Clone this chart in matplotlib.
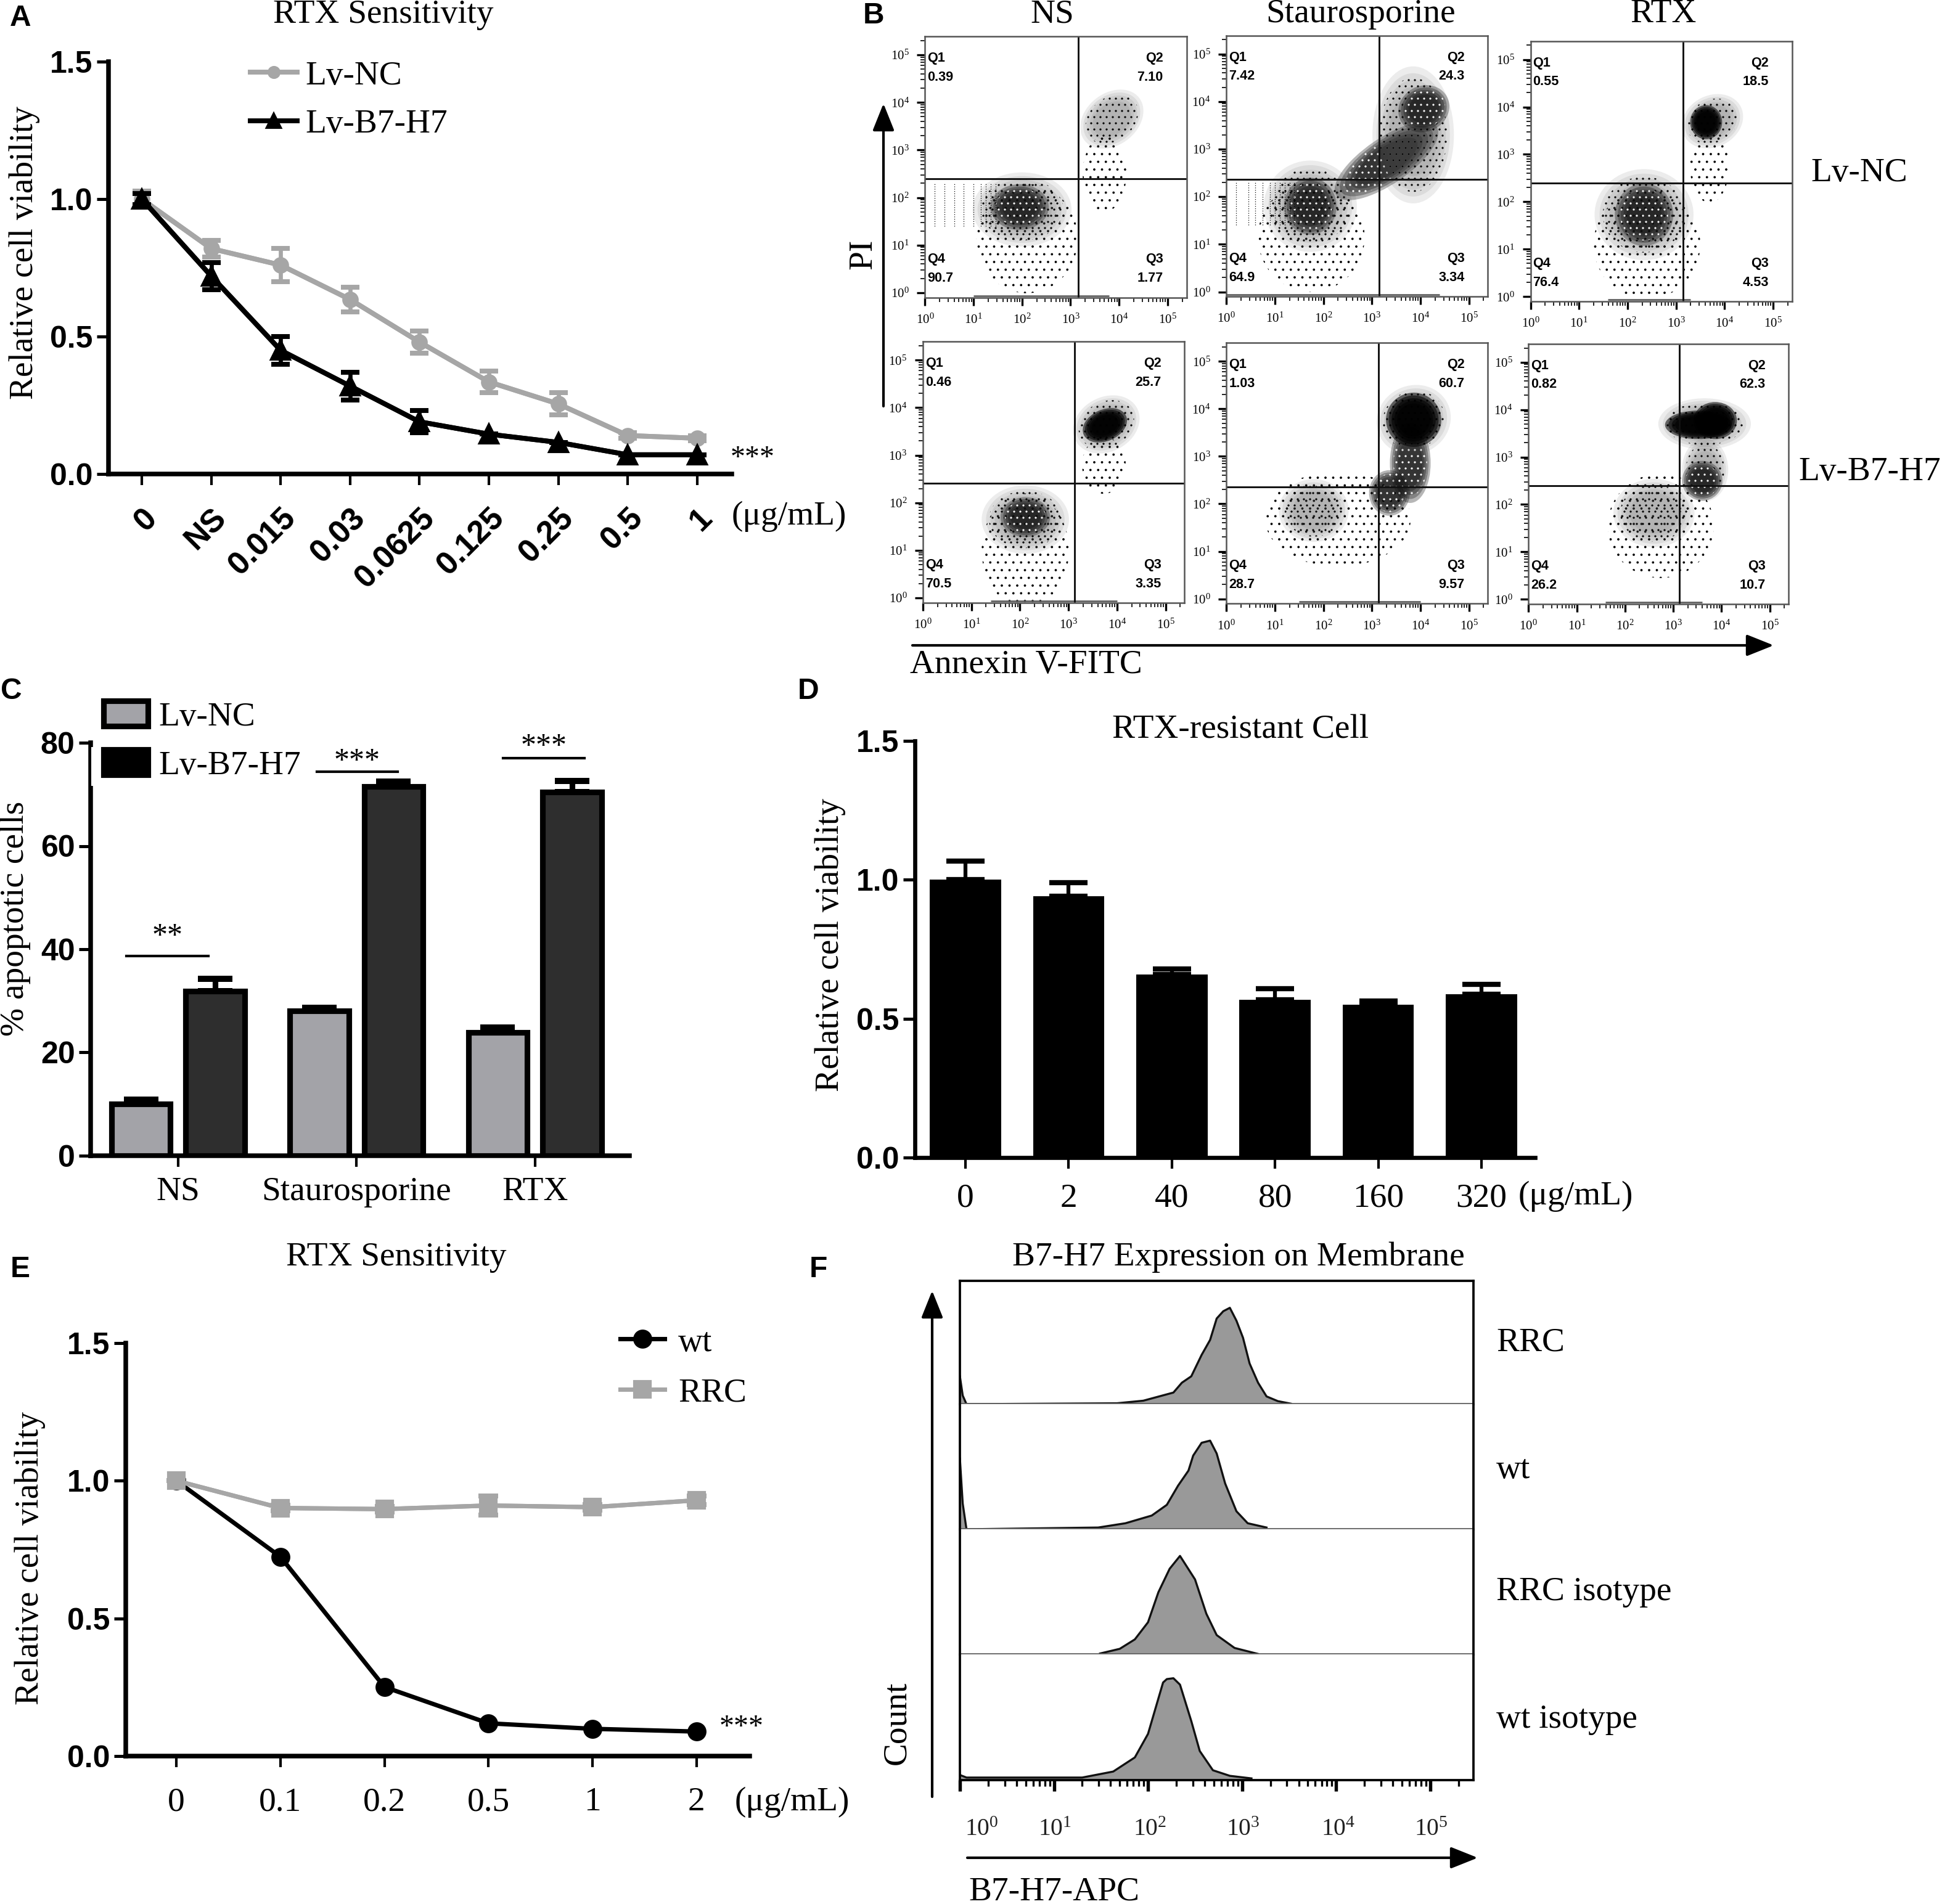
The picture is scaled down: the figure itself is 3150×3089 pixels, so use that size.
import numpy as np
import matplotlib
matplotlib.use("Agg")
import matplotlib.pyplot as plt
from matplotlib.patches import Ellipse, Rectangle, Patch

W, H = 3150, 3089
SERIF = "Liberation Serif"
SANS = "Liberation Sans"
plt.rcParams["font.family"] = [SERIF, "DejaVu Serif"]
plt.rcParams["mathtext.fontset"] = "custom"
plt.rcParams["mathtext.rm"] = SANS
plt.rcParams["hatch.linewidth"] = 0.3

# ---------- Panel A ----------
a_labels = ["0", "NS", "0.015", "0.03", "0.0625", "0.125", "0.25", "0.5", "1"]
a_nc = [1.0, 0.82, 0.76, 0.635, 0.48, 0.335, 0.255, 0.14, 0.13]
a_nc_err = [0.03, 0.03, 0.06, 0.045, 0.04, 0.04, 0.04, 0.01, 0.01]
a_b7 = [1.0, 0.72, 0.45, 0.32, 0.19, 0.145, 0.115, 0.07, 0.07]
a_b7_err = [0.02, 0.05, 0.05, 0.05, 0.04, 0.0, 0.0, 0.0, 0.0]

# ---------- Panel C ----------
c_groups = ["NS", "Staurosporine", "RTX"]
c_nc = [10.0, 28.1, 23.9]
c_nc_err = [0.9, 0.6, 0.9]
c_b7 = [31.9, 71.5, 70.5]
c_b7_err = [2.4, 1.0, 2.1]

# ---------- Panel D ----------
d_labels = ["0", "2", "40", "80", "160", "320"]
d_vals = [1.0, 0.94, 0.66, 0.567, 0.55, 0.587]
d_err = [0.068, 0.05, 0.02, 0.04, 0.013, 0.037]

# ---------- Panel E ----------
e_labels = ["0", "0.1", "0.2", "0.5", "1", "2"]
e_wt = [1.0, 0.724, 0.251, 0.119, 0.099, 0.089]
e_rrc = [1.0, 0.901, 0.897, 0.91, 0.904, 0.929]
e_rrc_err = [0.0, 0.01, 0.01, 0.035, 0.01, 0.015]

# ---------- Panel B: gates and population outlines, log10 units ----------
b_cols = ["NS", "Staurosporine", "RTX"]
b_gates = [[(3.16, 2.40), (3.15, 2.37), (3.15, 2.39)],
           [(3.13, 2.41), (3.13, 2.36), (3.13, 2.39)]]
b_q = [[("0.39", "7.10", "90.7", "1.77"), ("7.42", "24.3", "64.9", "3.34"), ("0.55", "18.5", "76.4", "4.53")],
       [("0.46", "25.7", "70.5", "3.35"), ("1.03", "60.7", "28.7", "9.57"), ("0.82", "62.3", "26.2", "10.7")]]
# centre x, centre y, width, height, angle, density level
b_pops = [
    [[(2.10, 1.14, 2.1, 2.3, 0, 0), (2.00, 1.75, 1.7, 1.3, 0, 1), (1.95, 1.80, 1.0, 0.8, 0, 2),
      (3.85, 3.65, 1.2, 0.9, 40, 1), (3.70, 2.50, 0.9, 1.6, 0, 0)],
     [(1.75, 1.15, 2.2, 2.3, 0, 0), (1.73, 1.80, 1.6, 1.6, 0, 1), (1.73, 1.80, 0.9, 1.0, 0, 2),
      (3.30, 2.75, 2.1, 0.8, 35, 2), (3.85, 3.30, 1.4, 2.4, 0, 1), (4.07, 3.85, 0.9, 0.8, 30, 2)],
     [(2.40, 1.10, 2.2, 2.3, 0, 0), (2.34, 1.73, 1.7, 1.6, 0, 1), (2.34, 1.73, 1.0, 1.1, 0, 2),
      (3.69, 2.73, 0.8, 1.5, 0, 0), (3.75, 3.70, 1.1, 0.9, 30, 1), (3.62, 3.68, 0.55, 0.6, 0, 3)]],
    [[(2.11, 1.00, 1.8, 2.4, 0, 0), (2.11, 1.65, 1.5, 1.2, 0, 1), (2.11, 1.70, 0.85, 0.7, 0, 2),
      (3.73, 2.79, 0.9, 1.2, 0, 0), (3.78, 3.65, 1.2, 0.95, 30, 1), (3.75, 3.63, 0.8, 0.55, 25, 3)],
     [(2.30, 1.68, 3.0, 2.0, 0, 0), (1.80, 1.86, 1.2, 1.1, 0, 1), (3.36, 2.23, 0.7, 0.8, 0, 2),
      (3.79, 2.86, 0.7, 1.4, 0, 2), (3.86, 3.77, 1.3, 1.2, 30, 1), (3.86, 3.77, 0.95, 0.95, 30, 3)],
     [(2.74, 1.55, 2.2, 2.2, 0, 0), (2.60, 1.82, 1.4, 1.2, 0, 1), (3.66, 2.73, 0.8, 1.1, 0, 1),
      (3.60, 2.50, 0.7, 0.7, 0, 2), (3.65, 3.70, 1.6, 0.9, 0, 1), (3.52, 3.68, 1.15, 0.5, 0, 3),
      (3.87, 3.77, 0.75, 0.65, 0, 3)]],
]
b_stripes = {(0, 0): [0.2, 0.4, 0.6, 0.8, 1.0, 1.15, 1.25, 1.35, 1.45],
             (0, 1): [0.2, 0.45, 0.6, 0.75, 0.9, 1.0, 1.1, 1.2, 1.3, 1.4]}
b_floor = {(0, 0): (1.0, 3.8), (0, 1): (0.0, 4.4), (0, 2): (1.6, 3.3),
           (1, 0): (1.4, 4.0), (1, 1): (1.5, 4.0), (1, 2): (1.6, 3.6)}

# ---------- Panel F: histograms, log10 intensity and count ----------
f_names = ["RRC", "wt", "RRC isotype", "wt isotype"]
f_x = [
    [0.0, 0.03, 0.07, 1.67, 1.95, 2.27, 2.36, 2.46, 2.57, 2.66, 2.73, 2.80, 2.87, 2.94, 3.01, 3.08, 3.17, 3.26, 3.38, 3.52],
    [0.0, 0.03, 0.07, 1.47, 1.76, 2.04, 2.20, 2.32, 2.43, 2.48, 2.57, 2.66, 2.73, 2.82, 2.94, 3.06, 3.26],
    [1.49, 1.70, 1.86, 2.0, 2.11, 2.23, 2.34, 2.50, 2.62, 2.73, 2.92, 3.17],
    [0.0, 0.07, 1.30, 1.63, 1.86, 2.0, 2.16, 2.20, 2.27, 2.34, 2.46, 2.55, 2.69, 2.87, 3.10],
]
f_y = [
    [65, 20, 0, 2, 8, 27, 50, 65, 115, 150, 200, 217, 225, 195, 155, 95, 50, 18, 7, 1],
    [165, 60, 0, 4, 14, 32, 57, 102, 137, 172, 202, 207, 177, 107, 42, 14, 4],
    [2, 13, 35, 75, 145, 200, 230, 175, 95, 45, 15, 1],
    [12, 6, 6, 20, 53, 108, 228, 236, 238, 223, 138, 68, 23, 10, 4],
]

fig = plt.figure(figsize=(W / 300, H / 300), dpi=300, facecolor="white")


def box(l, t, r, b):
    return fig.add_axes([l / W, 1 - b / H, (r - l) / W, (b - t) / H])


ov = fig.add_axes([0, 0, 1, 1], zorder=20)
ov.set_xlim(0, W)
ov.set_ylim(H, 0)
ov.axis("off")


def T(x, y, s, size=13.3, ha="center", va="center", **kw):
    kw.setdefault("family", [SERIF])
    ov.text(x, y, s, fontsize=size, ha=ha, va=va, **kw)


def arrow(x0, y0, x1, y1):
    ov.annotate("", xy=(x1, y1), xytext=(x0, y0),
                arrowprops=dict(arrowstyle="-|>,head_length=0.75,head_width=0.3", lw=1.0, color="black",
                                shrinkA=0, shrinkB=0, mutation_scale=12))


def prism(ax, yticks, ylim, xlim, xticks, xlabels, ylab_size=12, xpad=12, lw=1.8):
    ax.set_facecolor("none")
    ax.spines["top"].set_visible(False)
    ax.spines["right"].set_visible(False)
    ax.spines["left"].set_linewidth(lw)
    ax.spines["bottom"].set_linewidth(lw)
    ax.set_xlim(*xlim)
    ax.set_ylim(*ylim)
    ax.set_yticks(yticks)
    ax.set_yticklabels([("%d" % v if float(v).is_integer() and ylim[1] > 10 else "%.1f" % v) for v in yticks],
                       fontfamily=SANS, fontweight="bold", fontsize=ylab_size)
    ax.set_xticks(xticks)
    ax.set_xticklabels(xlabels, fontsize=13.3)
    ax.tick_params(axis="y", length=4.6, width=1.2, pad=1.5)
    ax.tick_params(axis="x", length=4.3, width=1.0, pad=xpad)


# ---- A ----
ax = box(176, 100, 1187, 769)
x = np.arange(len(a_labels))
prism(ax, [0, 0.5, 1.0, 1.5], (0, 1.5), (-0.48, 8.5), x, a_labels)
GREY = "#a6a6a6"
ax.errorbar(x, a_nc, yerr=a_nc_err, color=GREY, lw=1.9, elinewidth=1.6, capsize=3.7, capthick=1.9, clip_on=False, zorder=3)
h1, = ax.plot(x, a_nc, color=GREY, lw=1.9, marker="o", ms=5.4, clip_on=False, zorder=3, label="Lv-NC")
ax.errorbar(x, a_b7, yerr=a_b7_err, color="black", lw=1.9, elinewidth=1.6, capsize=3.7, capthick=1.9, clip_on=False, zorder=4)
h2, = ax.plot(x, a_b7, color="black", lw=1.9, marker="^", ms=7.2, clip_on=False, zorder=4, label="Lv-B7-H7")
ax.set_xticklabels(a_labels, rotation=45, ha="right", va="top", rotation_mode="anchor",
                   fontfamily=SANS, fontweight="bold", fontsize=12.5)
ax.tick_params(axis="x", pad=7)
ax.legend(handles=[h1, h2], loc="upper left", bbox_to_anchor=(406, 98), bbox_transform=ov.transData,
          frameon=False, fontsize=13.3, borderpad=0, borderaxespad=0, handlelength=1.37, handletextpad=0.25,
          labelspacing=0.5, markerscale=0.75)
T(33, 29, "A", 11.5, family=[SANS], fontweight="bold")
T(622, 24, "RTX Sensitivity")
T(40, 410, "Relative cell viability", rotation=90)
T(1187, 838, "(\u03bcg/mL)", ha="left")
T(1221, 744, "***", 11.5)

# ---- B ----
boxes = [[(90, 84, 470, 688), (528, 82, 908, 686), (970, 95, 1350, 697)],
         [(87, 790, 467, 1394), (528, 793, 908, 1396), (967, 795, 1345, 1397)]]
MINOR = [k + np.log10(m) for k in range(6) for m in range(2, 10)]
FILL = {0: (0.6, 0.6, 0.6, 0.0), 1: (0.3, 0.3, 0.3, 0.10), 2: (0.05, 0.05, 0.05, 0.30), 3: (0, 0, 0, 0.55)}
HATCH = {0: ("....", "black"), 1: (".....", "black"), 2: (".....", "white"), 3: (None, "black")}
for r in range(2):
    for c in range(3):
        zl, zt, zr, zb = boxes[r][c]
        ax = box(1400 + zl / 0.896, zt / 1.4255, 1400 + zr / 0.896, zb / 1.4255)
        ax.set_xlim(0, 5.39)
        ax.set_ylim(-0.1, 5.39)
        for s in ax.spines.values():
            s.set_linewidth(0.6)
            s.set_color("#555555")
        ticks = list(range(6))
        labs = [r"$\mathregular{10^{%d}}$" % k for k in ticks]
        ax.set_xticks(ticks)
        ax.set_xticklabels(labs, fontsize=5)
        ax.set_yticks(ticks)
        ax.set_yticklabels(labs, fontsize=5)
        ax.set_xticks([m for m in MINOR if m < 5.39], minor=True)
        ax.set_yticks([m for m in MINOR if m < 5.39], minor=True)
        ax.tick_params(which="major", length=3.2, width=0.8, pad=3)
        ax.tick_params(which="minor", length=1.6, width=0.4)
        for (cx, cy, w, h, ang, lev) in b_pops[r][c]:
            if lev > 0:
                for sc in (1.2, 1.08, 0.96, 0.84, 0.72):
                    ax.add_patch(Ellipse((cx, cy), w * sc, h * sc, angle=ang, facecolor=FILL[lev], edgecolor="none", lw=0))
            hatch, hc = HATCH[lev]
            if hatch:
                ax.add_patch(Ellipse((cx, cy), w, h, angle=ang, facecolor="none", edgecolor=hc, lw=0, hatch=hatch))
        for sx in b_stripes.get((r, c), []):
            ax.vlines(sx, 1.4, 2.3, color="black", lw=0.3, linestyles=(0, (1, 2)))
        f0, f1 = b_floor[(r, c)]
        ax.hlines(-0.06, f0, f1, color="#555555", lw=0.6)
        gx, gy = b_gates[r][c]
        ax.axvline(gx, color="#111111", lw=0.7)
        ax.axhline(gy, color="#111111", lw=0.7)
        q1, q2, q4, q3 = b_q[r][c]
        for tx, ty, ha, head, val in [(0.05, 4.93, "left", "Q1", q1), (4.91, 4.93, "right", "Q2", q2),
                                      (0.05, 0.70, "left", "Q4", q4), (4.91, 0.70, "right", "Q3", q3)]:
            ax.text(tx, ty, head, fontsize=5.2, family=SANS, fontweight="bold", va="center", ha=ha)
            ax.text(tx, ty - 0.40, val, fontsize=5.2, family=SANS, fontweight="bold", va="center", ha=ha)
for name, xc in zip(b_cols, [1707, 2207, 2698]):
    T(xc, 23, name)
T(1417, 25, "B", 11.5, family=[SANS], fontweight="bold")
T(2937, 281, "Lv-NC", ha="left")
T(2917, 766, "Lv-B7-H7", ha="left")
T(1400, 412, "PI", rotation=90)
T(1476, 1079, "Annexin V-FITC", ha="left")
arrow(1433, 659, 1433, 168)
arrow(1480, 1047, 2877, 1047)

# ---- C ----
ax = box(147, 1205, 1021, 1875)
xc = np.arange(3)
prism(ax, [0, 20, 40, 60, 80], (0, 80), (-0.49, 2.53), xc, c_groups, xpad=3.7)
off, bw = 0.208, 0.33
ek = dict(ecolor="black", elinewidth=2.2, capsize=6.7, capthick=2.4)
b1 = ax.bar(xc - off, c_nc, bw, color="#a3a3a8", edgecolor="black", lw=2.2, yerr=[[0] * 3, c_nc_err], error_kw=ek, label="Lv-NC")
b2 = ax.bar(xc + off, c_b7, bw, color="#2e2e2e", edgecolor="black", lw=2.2, yerr=[[0] * 3, c_b7_err], error_kw=ek, label="Lv-B7-H7")
ov.add_patch(Rectangle((147.5, 1212), 6, 63, color="white", lw=0))
hc = [Patch(facecolor="#a3a3a8", edgecolor="black", lw=2.2), Patch(facecolor="black", edgecolor="black", lw=2.2)]
ax.legend(hc, ["Lv-NC", "Lv-B7-H7"], loc="upper left", bbox_to_anchor=(168, 1137), bbox_transform=ov.transData,
          frameon=False, fontsize=13.3, borderpad=0, borderaxespad=0, handlelength=1.3, handleheight=0.75,
          handletextpad=0.32, labelspacing=0.5)
for (x0, x1, y, ty, s) in [(205, 338, 1551, 1520, "**"), (514, 645, 1252, 1236, "***"), (816, 948, 1230, 1212, "***")]:
    ov.plot([x0, x1], [y, y], color="black", lw=1.0)
    T((x0 + x1) / 2, ty, s, 12)
T(18, 1121, "C", 11.5, family=[SANS], fontweight="bold")
T(25, 1490, "% apoptotic cells", rotation=90)

# ---- D ----
ax = box(1484, 1202, 2490, 1878)
xd = np.arange(6)
prism(ax, [0, 0.5, 1.0, 1.5], (0, 1.5), (-0.49, 5.52), xd, d_labels, xpad=5.6, lw=1.6)
ax.bar(xd, d_vals, 0.69, color="black", yerr=[[0] * 6, d_err],
       error_kw=dict(ecolor="black", elinewidth=1.5, capsize=7.5, capthick=2.0))
T(1311, 1121, "D", 11.5, family=[SANS], fontweight="bold")
T(2012, 1184, "RTX-resistant Cell")
T(1347, 1533, "Relative cell viability", rotation=90)
T(2463, 1941, "(\u03bcg/mL)", ha="left")

# ---- E ----
ax = box(204, 2179, 1216, 2849)
xe = np.arange(6)
prism(ax, [0, 0.5, 1.0, 1.5], (0, 1.5), (-0.486, 5.51), xe, e_labels, xpad=7.6)
ax.errorbar(xe, e_rrc, yerr=e_rrc_err, color=GREY, lw=1.7, elinewidth=1.5, capsize=3.8, capthick=1.9, zorder=3)
h3, = ax.plot(xe, e_wt, color="black", lw=1.7, marker="o", ms=6.4, zorder=3, label="wt")
h4, = ax.plot(xe, e_rrc, color=GREY, lw=1.7, marker="s", ms=6.4, zorder=4, label="RRC")
ax.legend(handles=[h3, h4], loc="upper left", bbox_to_anchor=(1006, 2153), bbox_transform=ov.transData,
          frameon=False, fontsize=13.3, borderpad=0, borderaxespad=0, handlelength=1.3, handletextpad=0.4,
          labelspacing=0.55)
T(33, 2060, "E", 11.5, family=[SANS], fontweight="bold")
T(643, 2040, "RTX Sensitivity")
T(49, 2528, "Relative cell viability", rotation=90)
T(1192, 2924, "(\u03bcg/mL)", ha="left")
T(1203, 2803, "***", 11.5)

# ---- F ----
bases = [2078, 2278, 2481, 2684, 2888]
for i, name in enumerate(f_names):
    ax = box(1557, bases[i], 2390, bases[i + 1])
    ax.set_xlim(0, 5.46)
    ax.set_ylim(0, (bases[i + 1] - bases[i]) * 1.44)
    ax.fill_between(f_x[i], f_y[i], 0, color="#999999", lw=0)
    ax.plot(f_x[i], f_y[i], color="#111111", lw=0.8)
    ax.spines["top"].set_visible(i == 0)
    for side in ("left", "right", "top", "bottom"):
        ax.spines[side].set_linewidth(0.9)
    if i < 3:
        ax.spines["bottom"].set_color("#666666")
        ax.set_xticks([])
    else:
        ax.set_xticks(range(6))
        ax.set_xticks([m for m in MINOR if m < 5.46], minor=True)
        ax.tick_params(which="major", length=4.2, width=1.3)
        ax.tick_params(which="minor", length=2.4, width=0.8)
        ax.set_xticklabels([])
    ax.set_yticks([])
for k, zx in enumerate([345, 515, 735, 950, 1170, 1385]):
    T(1350 + zx / 1.4255, 2969, r"$\mathregular{10^{%d}}$" % k, 9.5, color="#222222")
for name, y in zip(f_names, [2178, 2385, 2583, 2790]):
    T(2427, y, name, ha="left")
T(1327, 2060, "F", 11.5, family=[SANS], fontweight="bold")
T(2009, 2040, "B7-H7 Expression on Membrane")
T(1455, 2795, "Count", rotation=90)
T(1571, 3069, "B7-H7-APC", ha="left")
arrow(1512, 2915, 1512, 2094)
arrow(1569, 3014, 2397, 3014)

fig.savefig("out.png", dpi=300)
